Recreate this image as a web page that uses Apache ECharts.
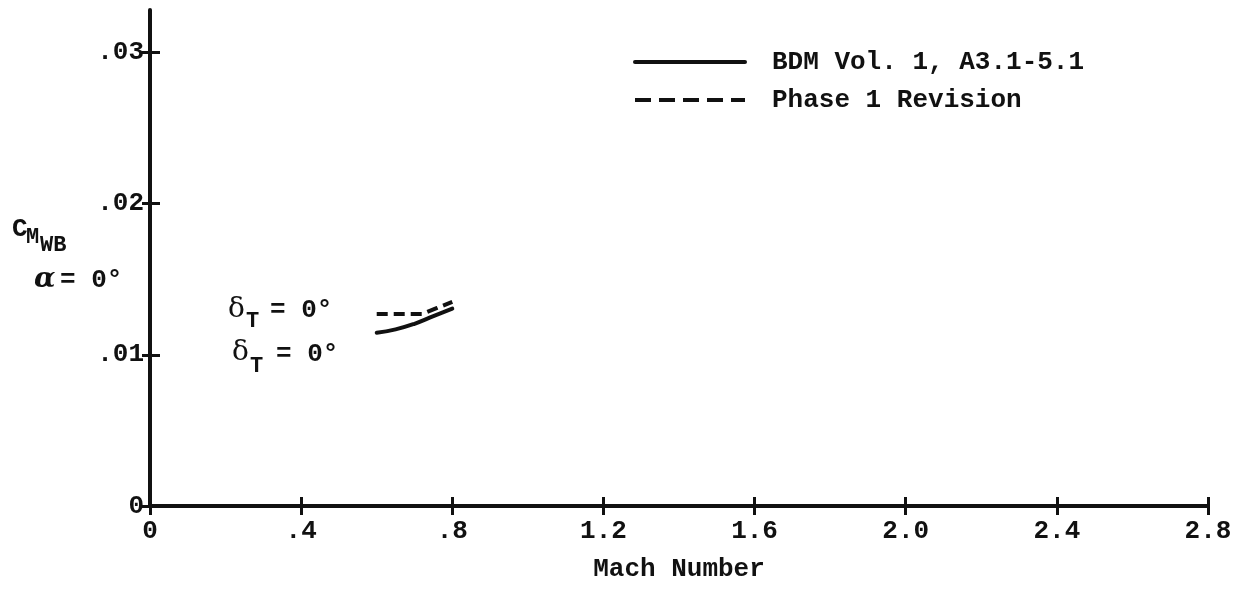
<!DOCTYPE html>
<html>
<head>
<meta charset="utf-8">
<script src="https://cdn.jsdelivr.net/npm/echarts@6/dist/echarts.min.js"></script>
<style>
  html, body { margin: 0; padding: 0; background: #fff; }
  #chart { width: 1246px; height: 589px; }
</style>
</head>
<body>
<div id="chart"></div>
<script>
// CM_WB at alpha = 0 vs Mach number
const xTicks = [0, 0.4, 0.8, 1.2, 1.6, 2.0, 2.4, 2.8]
const yTicks = [0, 0.01, 0.02, 0.03]

const bdmMach = [0.6, 0.65, 0.7, 0.75, 0.8]
const bdmCm = [0.01145, 0.01168, 0.01205, 0.01255, 0.01305]

const revMach = [0.6, 0.66, 0.72, 0.76, 0.8]
const revCm = [0.0127, 0.0127, 0.0127, 0.0131, 0.0135]

const seriesNames = ['BDM Vol. 1, A3.1-5.1', 'Phase 1 Revision']

const font = 'Liberation Mono'
const ink = '#111'

const pairs = (xs, ys) => xs.map((x, i) => [x, ys[i]])

const fmtX = (v) => (v === 0 ? '0' : v < 1 ? v.toFixed(1).replace('0.', '.') : v.toFixed(1))
const fmtY = (v) => (v === 0 ? '0' : v.toFixed(2).replace('0.', '.'))

const chart = echarts.init(document.getElementById('chart'))

const txt = { fontFamily: font, fontSize: 26, fontWeight: 'bold', color: ink }
const tickLine = { color: ink, width: 3 }

const option = {
  animation: false,
  backgroundColor: '#fff',
  grid: { left: 150, right: 38, top: 10, bottom: 83, containLabel: false },
  legend: {
    orient: 'vertical',
    left: 628,
    top: 44,
    itemWidth: 110,
    itemHeight: 14,
    itemGap: 12,
    data: [
      { name: seriesNames[0] },
      { name: seriesNames[1], lineStyle: { type: [16, 8] } }
    ],
    lineStyle: { width: 4 },
    itemStyle: { opacity: 0 },
    textStyle: { ...txt, padding: [0, 0, 0, 22] }
  },
  xAxis: [
    {
      type: 'value',
      min: 0,
      max: 2.8,
      interval: 0.4,
      splitLine: { show: false },
      axisLine: { show: true, onZero: false, lineStyle: { color: ink, width: 4 } },
      axisTick: { show: true, length: 9, lineStyle: tickLine },
      axisLabel: { ...txt, margin: 12, formatter: fmtX, customValues: xTicks },
      name: 'Mach Number',
      nameLocation: 'middle',
      nameGap: 50,
      nameTextStyle: txt
    },
    {
      // upper half of the cross ticks
      type: 'value',
      position: 'bottom',
      min: 0,
      max: 2.8,
      interval: 0.4,
      splitLine: { show: false },
      axisLine: { show: false, onZero: false },
      axisTick: { show: true, inside: true, length: 9, lineStyle: tickLine },
      axisLabel: { show: false }
    }
  ],
  yAxis: [
    {
      type: 'value',
      position: 'left',
      min: 0,
      max: 0.0328,
      splitLine: { show: false },
      axisLine: { show: true, onZero: false, lineStyle: { color: ink, width: 4 } },
      axisTick: { show: true, length: 8, customValues: yTicks, lineStyle: tickLine },
      axisLabel: { ...txt, margin: 6, formatter: fmtY, customValues: yTicks }
    },
    {
      type: 'value',
      position: 'left',
      min: 0,
      max: 0.0328,
      splitLine: { show: false },
      axisLine: { show: false, onZero: false },
      axisTick: { show: true, inside: true, length: 10, customValues: yTicks, lineStyle: tickLine },
      axisLabel: { show: false }
    }
  ],
  series: [
    {
      name: seriesNames[0],
      type: 'line',
      smooth: true,
      symbol: 'none',
      data: pairs(bdmMach, bdmCm),
      lineStyle: { color: ink, width: 4, cap: 'round' },
      itemStyle: { color: ink }
    },
    {
      name: seriesNames[1],
      type: 'line',
      smooth: false,
      symbol: 'none',
      data: pairs(revMach, revCm),
      lineStyle: { color: ink, width: 4, type: [11, 6] },
      itemStyle: { color: ink }
    }
  ],
  graphic: [
    // y axis title: C M WB, alpha = 0
    { type: 'text', left: 12, top: 216, style: { text: 'C', font: 'bold 26px "Liberation Mono"', fill: ink } },
    { type: 'text', left: 26, top: 226, style: { text: 'M', font: 'bold 22px "Liberation Mono"', fill: ink } },
    { type: 'text', left: 40, top: 234, style: { text: 'WB', font: 'bold 22px "Liberation Mono"', fill: ink } },
    { type: 'text', left: 34, top: 266, style: { text: 'α', font: 'italic bold 28px "DejaVu Serif"', fill: ink } },
    { type: 'text', left: 60, top: 267, style: { text: '= 0°', font: 'bold 26px "Liberation Mono"', fill: ink } },
    // curve labels
    { type: 'text', left: 228, top: 296, style: { text: 'δ', font: '28px "DejaVu Serif"', fill: ink } },
    { type: 'text', left: 246, top: 310, style: { text: 'T', font: 'bold 22px "Liberation Mono"', fill: ink } },
    { type: 'text', left: 270, top: 297, style: { text: '= 0°', font: 'bold 26px "Liberation Mono"', fill: ink } },
    { type: 'text', left: 232, top: 339, style: { text: 'δ', font: '28px "DejaVu Serif"', fill: ink } },
    { type: 'text', left: 250, top: 355, style: { text: 'T', font: 'bold 22px "Liberation Mono"', fill: ink } },
    { type: 'text', left: 276, top: 341, style: { text: '= 0°', font: 'bold 26px "Liberation Mono"', fill: ink } }
  ]
}

chart.setOption(option)
</script>
</body>
</html>
